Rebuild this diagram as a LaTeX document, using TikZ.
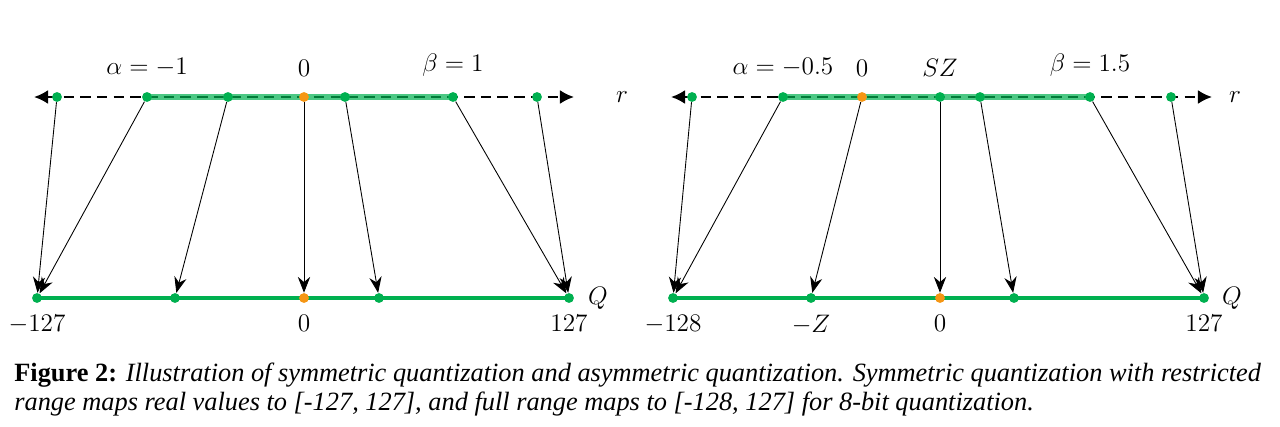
\documentclass[tikz,border=0pt]{standalone}
\usepackage{fontspec}
\setmainfont{Liberation Serif}
\usepackage{amsmath}
\usetikzlibrary{arrows.meta,backgrounds}
\definecolor{qgreen}{RGB}{0,176,80}
\definecolor{qorange}{RGB}{245,150,20}
\tikzstyle{gdot}=[circle, fill=qgreen, inner sep=0pt, minimum size=5.6pt]
\tikzstyle{odot}=[circle, fill=qorange, inner sep=0pt, minimum size=5.6pt]
\tikzstyle{labelsty}=[font=\fontsize{15}{17}\selectfont]
\tikzstyle{axisline}=[line width=1.4pt, dashed, dash pattern=on 6pt off 3.5pt, {Latex[length=8pt,width=8pt]}-{Latex[length=8pt,width=8pt]}]
\tikzstyle{rangeline}=[line width=3.2pt, qgreen, opacity=0.7]
\tikzstyle{qline}=[line width=1.8pt, qgreen]
\tikzstyle{mapedge}=[line width=0.5pt, -{Stealth[length=9pt,width=7pt]}]

\begin{document}
\begin{tikzpicture}[x=0.02cm,y=-0.02cm]
	\useasboundingbox (0,0) rectangle (1280,426);
	% symmetric quantization
	\coordinate (sl) at (34,97);
	\coordinate (sr) at (574,97);
	\node[gdot] (s1) at (57,97) {};
	\node[gdot,label={[labelsty,label distance=5pt]above:$\alpha = -1$}] (s2) at (147,97) {};
	\node[gdot] (s3) at (228,97) {};
	\node[odot,label={[labelsty,label distance=5pt]above:$0$}] (s4) at (304,97) {};
	\node[gdot] (s5) at (345,97) {};
	\node[gdot,label={[labelsty,label distance=5pt]above:$\beta = 1$}] (s6) at (453,97) {};
	\node[gdot] (s7) at (537,97) {};
	\node[labelsty] (sr-lab) at (622,97) {$r$};
	
	\node[gdot,label={[labelsty,label distance=3pt]below:$-127$}] (sq1) at (37,298) {};
	\node[gdot] (sq2) at (175,298) {};
	\node[odot,label={[labelsty,label distance=3pt]below:$0$}] (sq3) at (304,298) {};
	\node[gdot] (sq4) at (379,298) {};
	\node[gdot,label={[labelsty,label distance=3pt]below:$127$}] (sq5) at (569,298) {};
	\node[labelsty] (sq-lab) at (598,298) {$Q$};
	
	\begin{scope}[on background layer]
		\draw[axisline] (sl) -- (sr);
		\draw[rangeline] (s2.center) -- (s6.center);
		\draw[qline] (sq1.center) -- (sq5.center);
	\end{scope}
	
	\draw[mapedge] (s1) -- (sq1);
	\draw[mapedge] (s2) -- (sq1);
	\draw[mapedge] (s3) -- (sq2);
	\draw[mapedge] (s4) -- (sq3);
	\draw[mapedge] (s5) -- (sq4);
	\draw[mapedge] (s6) -- (sq5);
	\draw[mapedge] (s7) -- (sq5);
	
	% asymmetric quantization
	\coordinate (al) at (671,97);
	\coordinate (ar) at (1212,97);
	\node[gdot] (a1) at (692,97) {};
	\node[gdot,label={[labelsty,label distance=5pt]above:$\alpha = -0.5$}] (a2) at (783,97) {};
	\node[odot,label={[labelsty,label distance=5pt]above:$0$}] (a3) at (862,97) {};
	\node[gdot,label={[labelsty,label distance=5pt]above:$SZ$}] (a4) at (940,97) {};
	\node[gdot] (a5) at (980,97) {};
	\node[gdot,label={[labelsty,label distance=5pt]above:$\beta = 1.5$}] (a6) at (1090,97) {};
	\node[gdot] (a7) at (1171,97) {};
	\node[labelsty] (ar-lab) at (1235,97) {$r$};
	
	\node[gdot,label={[labelsty,label distance=3pt]below:$-128$}] (aq1) at (673,298) {};
	\node[gdot,label={[labelsty,label distance=3pt]below:$-Z$}] (aq2) at (811,298) {};
	\node[odot,label={[labelsty,label distance=3pt]below:$0$}] (aq3) at (940,298) {};
	\node[gdot] (aq4) at (1014,298) {};
	\node[gdot,label={[labelsty,label distance=3pt]below:$127$}] (aq5) at (1204,298) {};
	\node[labelsty] (aq-lab) at (1232,298) {$Q$};
	
	\begin{scope}[on background layer]
		\draw[axisline] (al) -- (ar);
		\draw[rangeline] (a2.center) -- (a6.center);
		\draw[qline] (aq1.center) -- (aq5.center);
	\end{scope}
	
	\draw[mapedge] (a1) -- (aq1);
	\draw[mapedge] (a2) -- (aq1);
	\draw[mapedge] (a3) -- (aq2);
	\draw[mapedge] (a4) -- (aq3);
	\draw[mapedge] (a5) -- (aq4);
	\draw[mapedge] (a6) -- (aq5);
	\draw[mapedge] (a7) -- (aq5);
	
	% caption
	\node[anchor=north west, align=left, inner sep=0pt, font=\fontsize{15}{16.5}\selectfont] (cap) at (14,363)
		{\textbf{Figure 2:} \textit{Illustration of symmetric quantization and asymmetric quantization. Symmetric quantization with restricted}\\
		 \textit{range maps real values to [-127, 127], and full range maps to [-128, 127] for 8-bit quantization.}};
\end{tikzpicture}
\end{document}
